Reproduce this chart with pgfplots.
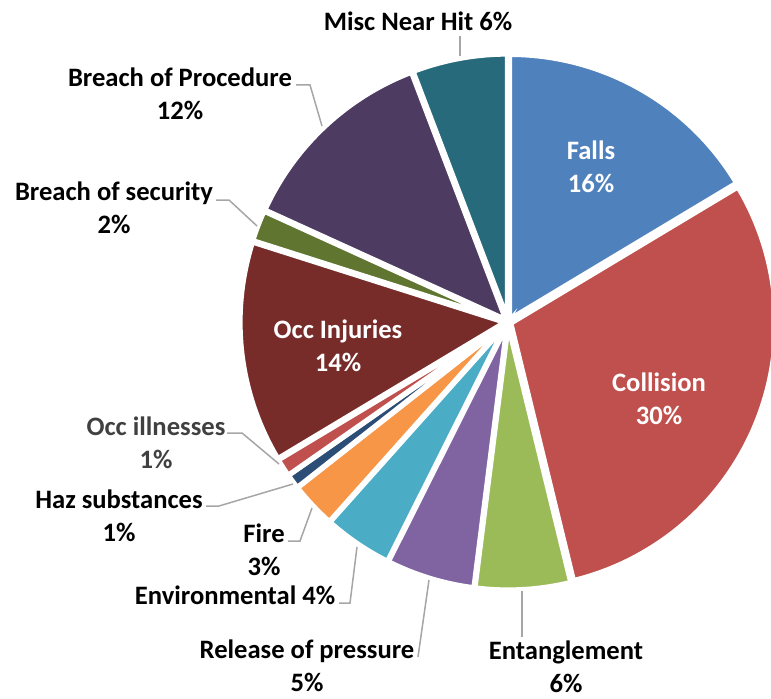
\documentclass[border=0pt]{standalone}
\usepackage{pgfplots}
\usepackage{pgfplotstable}
\pgfplotsset{compat=1.18}
\usepackage{fontspec}
\setmainfont{Carlito}
\definecolor{cFalls}{HTML}{4F81BD}
\definecolor{cCollision}{HTML}{C0504D}
\definecolor{cEntangle}{HTML}{9BBB59}
\definecolor{cRelease}{HTML}{8064A2}
\definecolor{cEnv}{HTML}{4BACC6}
\definecolor{cFire}{HTML}{F79646}
\definecolor{cHaz}{HTML}{2C4D75}
\definecolor{cOccIll}{HTML}{C0504D}
\definecolor{cOccInj}{HTML}{772C2A}
\definecolor{cBreachSec}{HTML}{5F7530}
\definecolor{cBreachProc}{HTML}{4D3B62}
\definecolor{cMisc}{HTML}{276A7C}
\definecolor{leader}{HTML}{A6A6A6}
\definecolor{greytext}{HTML}{404040}

\pgfplotstableread[col sep=comma]{
label,value,colour
Falls,16.4,cFalls
Collision,29.8,cCollision
Entanglement,5.8,cEntangle
Release of pressure,5.4,cRelease
Environmental,4.2,cEnv
Fire,2.8,cFire
Haz substances,0.9,cHaz
Occ illnesses,1.1,cOccIll
Occ Injuries,13.5,cOccInj
Breach of security,1.9,cBreachSec
Breach of Procedure,12.4,cBreachProc
Misc Near Hit,5.8,cMisc
}\pietable

\begin{document}
\begin{tikzpicture}
\begin{axis}[
  scale only axis, width=385.5pt, height=349pt,
  xmin=0, xmax=771, ymin=0, ymax=698,
  hide axis, clip=true,
]
\coordinate (bl) at (rel axis cs:0,0);
\coordinate (tr) at (rel axis cs:1,1);
\pgfplotstablegetrowsof{\pietable}
\pgfmathtruncatemacro\pN{\pgfplotsretval-1}
\def\pacc{90}
\pgfplotsforeachungrouped \pidx in {0,...,\pN}{%
  \pgfplotstablegetelem{\pidx}{value}\of\pietable \let\pval\pgfplotsretval
  \pgfplotstablegetelem{\pidx}{colour}\of\pietable \let\pcol\pgfplotsretval
  \pgfmathsetmacro\pstart{\pacc}%
  \pgfmathsetmacro\pend{\pacc-3.6*\pval}%
  \pgfmathsetmacro\pmid{(\pstart+\pend)/2}%
  \pgfmathsetmacro\pox{508+3*cos(\pmid)}%
  \pgfmathsetmacro\poy{376+3*sin(\pmid)}%
  \pgfmathsetmacro\psx{\pox+265*cos(\pstart)}%
  \pgfmathsetmacro\psy{\poy+265*sin(\pstart)}%
  \edef\ptemp{\noexpand\fill[\pcol, draw=white, line width=2.6pt, line join=miter]
     (axis cs:\pox,\poy) -- (axis cs:\psx,\psy)
     arc[start angle=\pstart, end angle=\pend, radius=132.5pt] -- cycle;}%
  \ptemp
  \let\pacc\pend
}

% leader lines
\begin{scope}[leader, line width=0.75pt]
\draw (axis cs:460,662) -- (axis cs:460,642);
\draw (axis cs:296,613) -- (axis cs:310,613) -- (axis cs:322,572);
\draw (axis cs:216,498) -- (axis cs:229,498) -- (axis cs:257,472);
\draw (axis cs:227,265) -- (axis cs:242,265) -- (axis cs:279,234);
\draw (axis cs:206,192) -- (axis cs:219,192) -- (axis cs:293,214);
\draw (axis cs:288,157) -- (axis cs:300,157) -- (axis cs:312,190);
\draw (axis cs:339,95) -- (axis cs:350,95) -- (axis cs:357,151);
\draw (axis cs:418,41) -- (axis cs:429,118);
\draw (axis cs:522,107) -- (axis cs:522,61);
\end{scope}

\begin{scope}[every node/.style={font=\fontsize{13.3}{16.5}\selectfont\bfseries, align=center, inner sep=0pt}]
\node at (axis cs:418,677) {Misc Near Hit 6\%};
\node at (axis cs:180,604.5) {Breach of Procedure\\12\%};
\node at (axis cs:114,490) {Breach of security\\2\%};
\node[white] at (axis cs:591,531.5) {Falls\\16\%};
\node[white] at (axis cs:659,299) {Collision\\30\%};
\node[white] at (axis cs:338,352.5) {Occ Injuries\\14\%};
\node[greytext] at (axis cs:156,255.5) {Occ illnesses\\1\%};
\node at (axis cs:119,182.5) {Haz substances\\1\%};
\node at (axis cs:264,148) {Fire\\3\%};
\node at (axis cs:235,103) {Environmental 4\%};
\node at (axis cs:307,32.5) {Release of pressure\\5\%};
\node at (axis cs:566,31) {Entanglement\\6\%};
\end{scope}
\end{axis}
\pgfresetboundingbox
\path (bl) rectangle (tr);
\end{tikzpicture}
\end{document}
